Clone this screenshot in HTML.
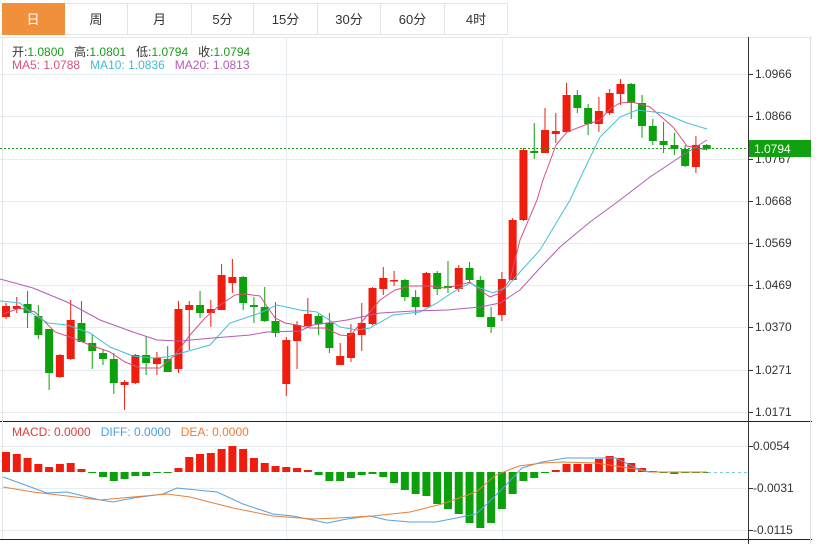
<!DOCTYPE html>
<html><head><meta charset="utf-8">
<style>
body{margin:0;background:#fff;width:819px;height:544px;overflow:hidden;font-family:"Liberation Sans","Noto Sans CJK SC",sans-serif;}
svg{position:absolute;left:0;top:0}
.tab{position:absolute;top:3px;height:32px;line-height:32px;text-align:center;font-size:13px;color:#333;border:1px solid #e3e3e3;border-left:none;box-sizing:border-box;background:#fff}
.lg{position:absolute;font-size:12px;white-space:nowrap}
</style></head><body>
<svg id="s" width="819" height="544" xmlns="http://www.w3.org/2000/svg"></svg>
<div class="tab" style="left:2px;width:63px;background:#f0903c;color:#fff;border-color:#f0903c">日</div>
<div class="tab" style="left:65px;width:63px">周</div>
<div class="tab" style="left:128px;width:64px">月</div>
<div class="tab" style="left:192px;width:62px">5分</div>
<div class="tab" style="left:254px;width:64px">15分</div>
<div class="tab" style="left:318px;width:63px">30分</div>
<div class="tab" style="left:381px;width:64px">60分</div>
<div class="tab" style="left:445px;width:63px">4时</div>
<div class="lg" style="left:12px;top:43px;color:#333">开:<span style="color:#1a9a1a">1.0800</span>&nbsp;&nbsp; 高:<span style="color:#1a9a1a">1.0801</span>&nbsp;&nbsp; 低:<span style="color:#1a9a1a">1.0794</span>&nbsp;&nbsp; 收:<span style="color:#1a9a1a">1.0794</span></div>
<div class="lg" style="left:12px;top:58px"><span style="color:#d9507f">MA5: 1.0788</span>&nbsp;&nbsp; <span style="color:#3fbcd4">MA10: 1.0836</span>&nbsp;&nbsp; <span style="color:#b65ab8">MA20: 1.0813</span></div>
<div class="lg" style="left:12px;top:425px"><span style="color:#e03c3c">MACD: 0.0000</span>&nbsp;&nbsp; <span style="color:#4a9ee0">DIFF: 0.0000</span>&nbsp;&nbsp; <span style="color:#e8803a">DEA: 0.0000</span></div>
<script>
const s=document.getElementById('s');let h='';
const L=(x1,y1,x2,y2,c,w,d)=>`<line x1="${x1}" y1="${y1}" x2="${x2}" y2="${y2}" stroke="${c}" stroke-width="${w||1}" ${d?'stroke-dasharray="'+d+'"':''}/>`;
const T=(x,y,t,c)=>`<text x="${x}" y="${y}" font-size="12" fill="${c||'#333'}" font-family="Liberation Sans,sans-serif">${t}</text>`;
[[74,'1.0966'],[116,'1.0866'],[159,'1.0767'],[201,'1.0668'],[243,'1.0569'],[285,'1.0469'],[327,'1.0370'],[370,'1.0271'],[412,'1.0171']].forEach(([y,t])=>{h+=L(0,y+.5,748,y+.5,'#e6edf2');h+=L(748,y+.5,753,y+.5,'#333');h+=T(755,y+4,t);});
[[446,'0.0054'],[488,'-0.0031'],[530,'-0.0115']].forEach(([y,t])=>{h+=L(0,y+.5,748,y+.5,'#e6edf2');h+=L(748,y+.5,753,y+.5,'#333');h+=T(753,y+4,t);});
h+=L(286.5,37,286.5,539,'#e6edf2');h+=L(502.5,37,502.5,539,'#e6edf2');
h+=L(0,37.5,812,37.5,'#e6e6e6');
h+=L(0,421.5,812,421.5,'#222');h+=L(0,539.5,812,539.5,'#222');
h+=L(748.5,37,748.5,544,'#333');h+=L(810.5,37,810.5,544,'#ddd');
h+=L(2.5,37,2.5,539,'#e6e6e6');
const C=[[306,317,303,319,1],[306,309,297,313,1],[304,313,291,328,0],[316,335,305,339,0],[329,373,329,390,0],[355,377,354,378,1],[320,359,300,360,1],[323,342,301,342,0],[343,351,334,369,0],[353,359,349,365,0],[359,383,353,394,0],[382,385,380,410,1],[355,383,354,384,1],[355,363,337,375,0],[358,364,352,375,1],[359,372,346,372,0],[309,369,301,373,1],[305,310,301,350,1],[305,313,291,318,0],[309,313,300,327,1],[275,310,264,310,1],[277,283,259,293,1],[277,303,276,310,0],[305,307,297,323,0],[307,321,287,322,0],[321,333,302,337,0],
[340,384,337,396,1],[325,341,321,369,1],[314,326,298,328,1],[316,324,314,335,0],[323,348,313,353,0],[356,365,343,365,1],[333,358,324,362,1],[323,335,303,351,1],[288,324,287,325,1],[278,289,267,295,1],[280,281,271,286,1],[280,297,279,301,0],[297,307,290,315,0],[273,307,272,307,1],[273,289,271,295,0],[286,288,261,293,0],[268,289,265,292,1],[268,280,262,283,0],[280,317,276,317,0],[317,327,307,333,0],[279,315,272,321,1],
[220,280,218,281,1],[150,220,148,221,1],[151,153,123,159,0],[130,153,108,153,1],[131,134,113,143,1],[95,132,83,132,1],[95,108,90,113,0],[108,124,104,135,0],[111,124,97,132,1],[93,113,89,115,1],[84,94,79,105,1],[84,103,83,119,0],[103,126,95,138,0],[126,141,119,145,0],[141,145,122,153,0],[145,149,133,155,0],[149,166,145,167,0],[145,167,136,173,1],[145,149,144,150,0]];
const R='#ee1d0e',G='#0ca10c';
const X=i=>6+i*10.78;
C.forEach((c,i)=>{const x=X(i),col=c[4]?R:G;h+=L(x,c[2],x,c[3],col,1);h+=`<rect x="${x-4}" y="${c[0]}" width="8" height="${Math.max(1.5,c[1]-c[0])}" fill="${col}"/>`;});
const P=(pts,c)=>`<polyline fill="none" stroke="${c}" stroke-width="1" points="${pts.map(p=>p.join(',')).join(' ')}"/>`;
h+=P([[3,314],[20,308],[35,312],[55,332],[70,337],[90,345],[110,352],[125,362],[140,368],[160,368],[175,355],[190,335],[205,318],[220,305],[235,295],[245,294],[260,296],[275,318],[285,323],[297,325],[310,328],[325,328],[340,335],[350,336],[365,318],[380,300],[395,290],[410,286],[430,286],[445,288],[460,285],[470,282],[480,290],[490,297],[500,293],[510,280],[520,240],[537,200],[543,180],[556,145],[567,132],[585,125],[600,120],[610,109],[620,103],[632,102],[650,107],[673,127],[687,146],[707,150]],'#d9507f');
h+=P([[0,301],[20,303],[30,312],[48,323],[67,325],[90,333],[110,347],[133,356],[153,358],[167,357],[210,345],[230,323],[260,313],[277,305],[300,310],[317,312],[340,327],[357,330],[370,328],[393,315],[420,312],[437,303],[453,292],[470,283],[480,288],[493,293],[507,287],[520,272],[540,250],[555,225],[570,200],[585,168],[600,137],[620,117],[637,110],[663,113],[687,123],[707,129]],'#45bfd6');
h+=P([[0,279],[33,288],[67,302],[100,320],[133,332],[157,340],[180,341],[213,338],[250,335],[267,332],[300,331],[313,325],[347,320],[380,313],[413,311],[447,310],[480,307],[500,303],[520,290],[540,268],[560,247],[590,222],[620,200],[650,177],[680,157],[707,140]],'#b65ab8');
h+=L(0,148.5,748,148.5,'#1aa11a',1,'2,2');
h+=`<rect x="749" y="140" width="62" height="17" fill="#10a010"/>`+T(754,153,'1.0794','#fff');
const Hs=[452,454,458,464,467,464,463,469,473,477,481,479,476,476,472,472,468,457,454,453,449,446,449,458,463,466,467,468,470,475,481,481,478,475,474,477,483,490,494,496,504,509,514,523,528,523,509,494,481,478,473,470,464,464,464,459,456,458,463,468,471,473,474,473,473,472];
const Z=472;
Hs.forEach((v,i)=>{if(i>65)return;const x=X(i);const col=v<Z?R:G;const y=Math.min(v,Z),hh=Math.abs(v-Z);h+=`<rect x="${x-4}" y="${y}" width="8" height="${Math.max(1,hh)}" fill="${col}"/>`;});
h+=L(708,472.5,748,472.5,'#7cc8dc',1,'3,3');
h+=P([[3,477],[17,482],[47,493],[67,492],[100,500],[113,502],[133,498],[163,494],[177,488],[217,492],[243,504],[273,514],[293,516],[327,523],[347,519],[370,516],[387,520],[410,522],[436,522],[476,514],[489,502],[506,485],[522,468],[542,462],[566,458],[602,458],[616,458],[636,468],[649,472],[707,472]],'#5aa0e0');
h+=P([[3,487],[33,492],[67,496],[100,500],[133,497],[167,494],[190,497],[233,508],[273,516],[313,519],[337,518],[373,516],[410,512],[442,504],[476,492],[496,475],[519,466],[542,463],[562,462],[596,463],[629,468],[649,472],[707,472]],'#e8803a');
s.innerHTML=h;
</script>
</body></html>
